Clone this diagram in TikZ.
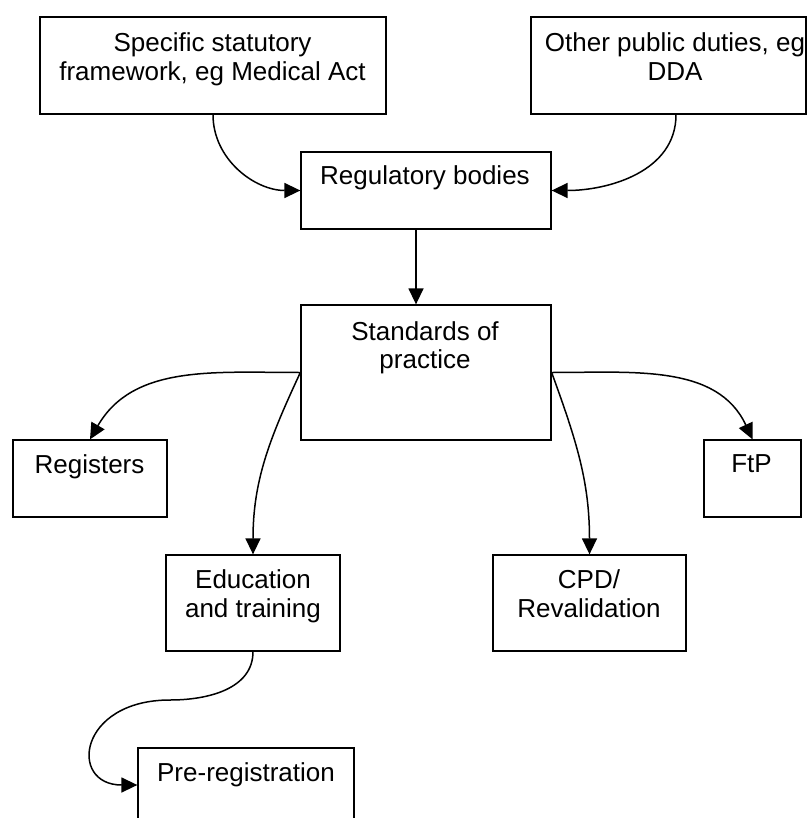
\documentclass[tikz,border=0pt]{standalone}
\usepackage{fontspec}
\setmainfont{Liberation Sans}
\usetikzlibrary{arrows.meta}
\begin{document}
\begin{tikzpicture}[x=1pt,y=-1pt,
  box/.style={draw, line width=1.3pt, inner sep=0pt, minimum width=#1},
  lbl/.style={anchor=base, inner sep=0pt, align=center, font=\fontsize{26}{28.5}\selectfont},
  conn/.style={line width=1.5pt, -{Triangle[length=16pt,width=15pt]}}]
\clip (0,0) rectangle (808,818);
\fill[white] (0,0) rectangle (808,818);
% boxes
\node[box=346pt, minimum height=97pt] (spec) at (213,65.5) {};
\node[box=275pt, minimum height=97pt] (other) at (668.5,65.5) {};
\node[box=250pt, minimum height=77pt] (reg) at (426,190.5) {};
\node[box=250pt, minimum height=135pt] (std) at (426,372.5) {};
\node[box=154pt, minimum height=77pt] (regs) at (90,478.5) {};
\node[box=97pt, minimum height=77pt] (ftp) at (752.5,478.5) {};
\node[box=174pt, minimum height=96pt] (edu) at (253,603) {};
\node[box=193pt, minimum height=96pt] (cpd) at (589.5,603) {};
\node[box=216pt, minimum height=74pt] (pre) at (246,785) {};
% texts (base = baseline of last line)
\node[lbl] (spec-t) at (212.5,80.2) {Specific statutory\\framework, eg Medical Act};
\node[lbl] (other-t) at (675,80.2) {Other public duties, eg\\DDA};
\node[lbl] (reg-t) at (425,185) {Regulatory bodies};
\node[lbl] (std-t) at (425,368.5) {Standards of\\practice};
\node[lbl] (regs-t) at (89.5,473) {Registers};
\node[lbl] (ftp-t) at (751.5,472) {FtP};
\node[lbl] (edu-t) at (253,617) {Education\\and training};
\node[lbl] (cpd-t) at (589,617) {CPD/\\Revalidation};
\node[lbl] (pre-t) at (246,781) {Pre-registration};
% connectors
\draw[conn] (spec.south) to[out=-90,in=180] (reg.west);
\draw[conn] ([xshift=7.5pt]other.south) to[out=-90,in=0] (reg.east);
\draw[conn] ([xshift=-10pt]reg.south) -- ([xshift=-10pt]std.north);
\draw[conn] (std.west) to[out=180,in=60] (regs.north);
\draw[conn] (std.west) to[out=245,in=90] (edu.north);
\draw[conn] (std.east) to[out=0,in=115] (ftp.north);
\draw[conn] (std.east) to[out=-70,in=90] (cpd.north);
\coordinate (bend) at (170,700);
\draw[conn] (edu.south) to[out=-90,in=0] (bend) .. controls (78,700) and (68,785) .. (pre.west);
\end{tikzpicture}
\end{document}
